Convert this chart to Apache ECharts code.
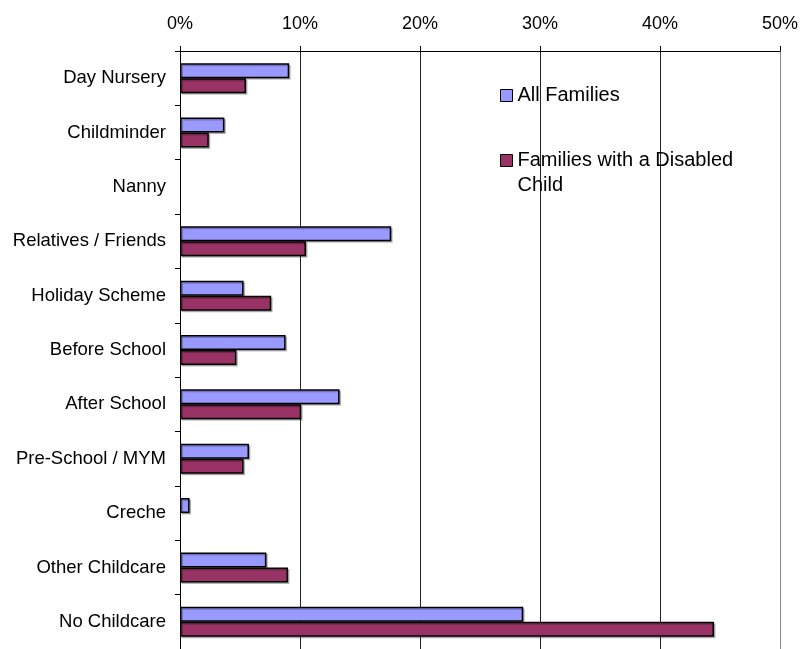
<!DOCTYPE html>
<html>
<head>
<meta charset="utf-8">
<script src="https://cdn.jsdelivr.net/npm/echarts@6/dist/echarts.min.js"></script>
<style>html,body{margin:0;padding:0;background:#fff;}#c{width:801px;height:649px;}</style>
</head>
<body>
<div id="c"></div>
<script>
const categories = ["Day Nursery","Childminder","Nanny","Relatives / Friends","Holiday Scheme","Before School","After School","Pre-School / MYM","Creche","Other Childcare","No Childcare"];
const allFamilies = [9.1, 3.7, 0, 17.6, 5.3, 8.8, 13.3, 5.75, 0.8, 7.2, 28.6];
const disabledFamilies = [5.5, 2.4, 0, 10.5, 7.6, 4.7, 10.1, 5.3, 0, 9.0, 44.5];
const seriesNames = ["All Families", "Families with a Disabled Child"];
const xTicks = [0, 10, 20, 30, 40, 50];

const chart = echarts.init(document.getElementById('c'));
const font = 'Liberation Sans, Arial, sans-serif';
const hideZero = arr => arr.map(v => v === 0 ? '-' : v);
const barShadow = {shadowColor: 'rgba(0,0,0,0.25)', shadowOffsetX: 1.5, shadowOffsetY: 1.5, shadowBlur: 0};
chart.setOption({
  animation: false,
  textStyle: {fontFamily: font},
  grid: {left: 180, right: 21, top: 51, bottom: -3, containLabel: false},
  legend: {
    orient: 'vertical', left: 495, top: 78, itemWidth: 12, itemHeight: 12, itemGap: 15,
    icon: 'rect',
    textStyle: {fontFamily: font, fontSize: 20, color: '#000', lineHeight: 25},
    formatter: function(n){ return n === seriesNames[1] ? '\nFamilies with a Disabled\nChild' : n; },
    data: seriesNames.map(n => ({name: n, itemStyle: {borderColor: '#000', borderWidth: 1}}))
  },
  xAxis: {
    type: 'value', position: 'top', min: xTicks[0], max: xTicks[xTicks.length - 1], interval: 10,
    axisLine: {show: true, lineStyle: {color: '#000', width: 1}},
    axisTick: {show: true, length: 5, lineStyle: {color: '#000'}},
    axisLabel: {formatter: '{value}%', color: '#000', fontSize: 18, margin: 18, fontFamily: font},
    splitLine: {show: true, lineStyle: {color: ['#000', '#222', '#222', '#222', '#222', '#888'], width: 1}}
  },
  yAxis: {
    type: 'category', inverse: true, data: categories,
    axisLine: {show: true, lineStyle: {color: '#000', width: 1}},
    axisTick: {show: true, length: 5, interval: 0, lineStyle: {color: '#000'}},
    axisLabel: {color: '#000', fontSize: 18.5, margin: 14, interval: 0, fontFamily: font}
  },
  series: [
    {name: seriesNames[0], type: 'bar', data: hideZero(allFamilies), barWidth: 15, barGap: '0%',
     itemStyle: Object.assign({color: '#9999FF', borderColor: '#000', borderWidth: 1.5}, barShadow)},
    {name: seriesNames[1], type: 'bar', data: hideZero(disabledFamilies), barWidth: 15, barGap: '0%',
     itemStyle: Object.assign({color: '#993366', borderColor: '#000', borderWidth: 1.5}, barShadow)}
  ]
});
</script>
</body>
</html>
